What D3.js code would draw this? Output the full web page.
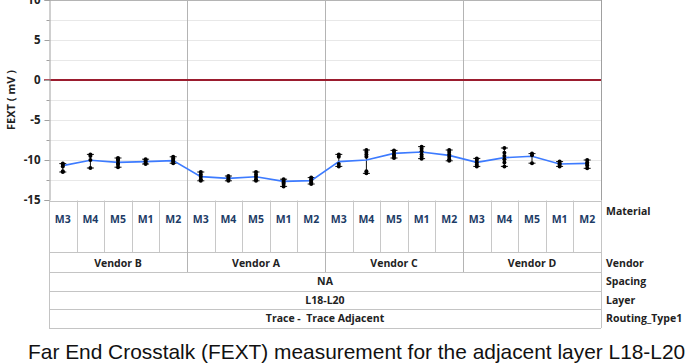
<!DOCTYPE html>
<html><head><meta charset="utf-8">
<script src="https://cdn.jsdelivr.net/npm/d3@7"></script>
<style>body{margin:0;background:#fff}svg{display:block}text{white-space:pre}</style>
</head><body>
<svg id="c" width="686" height="363"></svg>
<script>
// ---- data ----
const vendors = ["Vendor B", "Vendor A", "Vendor C", "Vendor D"];
const materials = ["M3", "M4", "M5", "M1", "M2"];
const yTicks = [-15, -10, -5, 0, 5, 10];
const yMinorTicks = [-12.5, -7.5, -2.5, 2.5, 7.5];
const refLine = 0;
const spacingLabel = "NA";
const layerLabel = "L18-L20";
const routingLabel = "Trace -  Trace Adjacent";
const rowLabels = ["Material", "Vendor", "Spacing", "Layer", "Routing_Type1"];
const yTitle = "FEXT ( mV )";
const caption = "Far End Crosstalk (FEXT) measurement for the adjacent layer L18-L20";

const meanVendorB = [-10.7, -10.04, -10.3, -10.2, -10.08];
const meanVendorA = [-12.08, -12.3, -12.1, -12.67, -12.58];
const meanVendorC = [-10.2, -10.0, -9.17, -9.0, -9.42];
const meanVendorD = [-10.3, -9.7, -9.54, -10.5, -10.42];

const pointsVendorB = [
  [-10.45, -10.6, -10.8, -11.4, -11.5],
  [-9.3, -9.5, -10.0, -11.0],
  [-9.75, -9.9, -10.1, -10.4, -10.6, -10.9],
  [-9.9, -10.0, -10.2, -10.4, -10.5],
  [-9.6, -9.8, -10.0, -10.2, -10.4]
];
const pointsVendorA = [
  [-11.5, -11.8, -12.1, -12.4, -12.6],
  [-12.0, -12.2, -12.4, -12.6],
  [-11.5, -11.8, -12.1, -12.4, -12.6],
  [-12.4, -12.6, -12.8, -13.0, -13.3],
  [-12.2, -12.4, -12.6, -12.8, -13.0]
];
const pointsVendorC = [
  [-9.3, -9.6, -10.5, -10.8],
  [-8.75, -9.0, -9.3, -9.6, -11.4, -11.67],
  [-8.8, -9.0, -9.3, -9.5, -9.75],
  [-8.33, -8.6, -8.9, -9.3, -9.6, -9.83],
  [-8.75, -9.0, -9.3, -9.6, -9.9, -10.1]
];
const pointsVendorD = [
  [-9.8, -10.0, -10.3, -10.6, -10.8],
  [-8.5, -9.1, -9.5, -9.9, -10.3, -10.8],
  [-9.2, -9.4, -10.4],
  [-10.2, -10.4, -10.6, -10.8],
  [-10.0, -10.3, -10.5, -10.7, -11.04]
];

const means = [meanVendorB, meanVendorA, meanVendorC, meanVendorD];
const points = [pointsVendorB, pointsVendorA, pointsVendorC, pointsVendorD];

// ---- build rows ----
const rows = [];
vendors.forEach((v, vi) => materials.forEach((m, mi) => {
  rows.push({key: v + "|" + m, vendor: v, material: m, mean: means[vi][mi], pts: points[vi][mi]});
}));

// ---- layout ----
const L = 49, R = 601, T = 0, B = 200.5;
const rowY = [201, 252, 272, 291, 309, 328];
const font = "'Open Sans', 'DejaVu Sans', sans-serif";

const svg = d3.select("#c");
const x = d3.scaleBand().domain(rows.map(d => d.key)).range([L, R]).padding(0);
const y = d3.scaleLinear().domain([-15, 10]).range([B - 0.5, T]);

// gridlines
svg.append("g").selectAll("line").data(yTicks.concat(yMinorTicks).filter(v => v > -15 && v < 10))
  .join("line").attr("x1", L).attr("x2", R)
  .attr("y1", d => Math.round(y(d)) + 0.5).attr("y2", d => Math.round(y(d)) + 0.5)
  .attr("stroke", "#e8e8e8").attr("stroke-width", 1);

// vendor separators in plot
const vendorBounds = vendors.map(v => x(v + "|" + materials[0]));
svg.append("g").selectAll("line").data(vendorBounds.slice(1))
  .join("line").attr("x1", d => Math.round(d) + 0.5).attr("x2", d => Math.round(d) + 0.5)
  .attr("y1", T).attr("y2", B).attr("stroke", "#b4b4b4");

// top & right border
svg.append("line").attr("x1", L).attr("x2", R).attr("y1", 0.5).attr("y2", 0.5).attr("stroke", "#b4b4b4");
svg.append("line").attr("x1", R + 0.5).attr("x2", R + 0.5).attr("y1", 0).attr("y2", B).attr("stroke", "#a0a0a0");

// reference line
svg.append("line").attr("x1", L).attr("x2", R).attr("y1", y(refLine)).attr("y2", y(refLine))
  .attr("stroke", "#9b1c2e").attr("stroke-width", 2.2);
svg.append("line").attr("x1", L - 5).attr("x2", L).attr("y1", y(refLine)).attr("y2", y(refLine))
  .attr("stroke", "#9b1c2e").attr("stroke-width", 1.5);

// y axis
const yAxis = svg.append("g").attr("transform", `translate(${L + 0.5},0)`)
  .call(d3.axisLeft(y).tickValues(yTicks).tickSize(5).tickPadding(4).tickFormat(d => String(d)));
yAxis.select(".domain").attr("stroke", "#a0a0a0");
yAxis.selectAll(".tick line").attr("stroke", "#a0a0a0");
yAxis.selectAll("text").attr("font-family", font).attr("font-size", 11.5).attr("font-weight", 700).attr("fill", "#222");
svg.append("g").attr("transform", `translate(${L + 0.5},0)`)
  .call(d3.axisLeft(y).tickValues(yMinorTicks).tickSize(3).tickFormat(""))
  .call(g => { g.select(".domain").remove(); g.selectAll("line").attr("stroke", "#a0a0a0"); });

svg.append("text").attr("transform", `translate(15,${y(-2.5)}) rotate(-90)`)
  .attr("text-anchor", "middle").attr("font-family", font).attr("font-size", 11).attr("font-weight", 700)
  .attr("fill", "#222").text(yTitle);

// error bars & points
const cx = d => x(d.key) + x.bandwidth() / 2;
const gE = svg.append("g");
rows.forEach(d => {
  const lo = d3.min(d.pts), hi = d3.max(d.pts);
  gE.append("line").attr("x1", cx(d)).attr("x2", cx(d)).attr("y1", y(hi)).attr("y2", y(lo)).attr("stroke", "#111");
  [lo, hi].forEach(v => gE.append("line").attr("x1", cx(d) - 3.5).attr("x2", cx(d) + 3.5)
    .attr("y1", y(v)).attr("y2", y(v)).attr("stroke", "#111"));
});

// mean line
svg.append("path").datum(rows).attr("fill", "none").attr("stroke", "#3d7bff").attr("stroke-width", 1.6)
  .attr("d", d3.line().x(cx).y(d => y(d.mean)));

// points
svg.append("g").selectAll("circle").data(rows.flatMap(d => d.pts.map(p => ({d, p}))))
  .join("circle").attr("cx", o => cx(o.d)).attr("cy", o => y(o.p)).attr("r", 2).attr("fill", "#000");

// ---- category table ----
const gT = svg.append("g");
const stroke = "#c4c4c4";
rowY.forEach(yy => gT.append("line").attr("x1", L).attr("x2", R).attr("y1", yy + 0.5).attr("y2", yy + 0.5).attr("stroke", stroke));
gT.append("line").attr("x1", L + 0.5).attr("x2", L + 0.5).attr("y1", B).attr("y2", rowY[5]).attr("stroke", stroke);
gT.append("line").attr("x1", R + 0.5).attr("x2", R + 0.5).attr("y1", B).attr("y2", rowY[5]).attr("stroke", stroke);
// material cell separators
gT.selectAll("line.m").data(rows.slice(1)).join("line").attr("class", "m")
  .attr("x1", d => Math.round(x(d.key)) + 0.5).attr("x2", d => Math.round(x(d.key)) + 0.5)
  .attr("y1", B).attr("y2", rowY[1]).attr("stroke", "#c8c8c8");
// vendor separators in table
gT.selectAll("line.v").data(vendorBounds.slice(1)).join("line").attr("class", "v")
  .attr("x1", d => Math.round(d) + 0.5).attr("x2", d => Math.round(d) + 0.5)
  .attr("y1", B).attr("y2", rowY[2]).attr("stroke", "#b4b4b4");

const txt = (sel) => sel.attr("font-family", font).attr("font-weight", 700).attr("font-size", 10.5);
gT.selectAll("text.m").data(rows).join("text").attr("class", "m")
  .attr("x", cx).attr("y", 223).attr("text-anchor", "middle").call(txt).attr("fill", "#1d3c66")
  .text(d => d.material);
gT.selectAll("text.v").data(vendors).join("text").attr("class", "v")
  .attr("x", (v, i) => (vendorBounds[i] + (i < 3 ? vendorBounds[i + 1] : R)) / 2)
  .attr("y", 266.5).attr("text-anchor", "middle").call(txt).attr("fill", "#222").text(d => d);
[[spacingLabel, 285], [layerLabel, 303.5], [routingLabel, 322]].forEach(([t, yy]) =>
  gT.append("text").attr("x", (L + R) / 2).attr("y", yy).attr("text-anchor", "middle").call(txt).attr("fill", "#222").text(t));
const rowLabelY = [215, 266.5, 285, 303.5, 322];
rowLabels.forEach((t, i) => gT.append("text").attr("x", 606).attr("y", rowLabelY[i]).call(txt)
  .attr("fill", "#222").text(t));

// caption
svg.append("text").attr("x", 28).attr("y", 359).attr("font-family", "'Liberation Sans', Arial, sans-serif")
  .attr("font-size", 20.9).attr("fill", "#111").text(caption);
</script>
</body></html>
